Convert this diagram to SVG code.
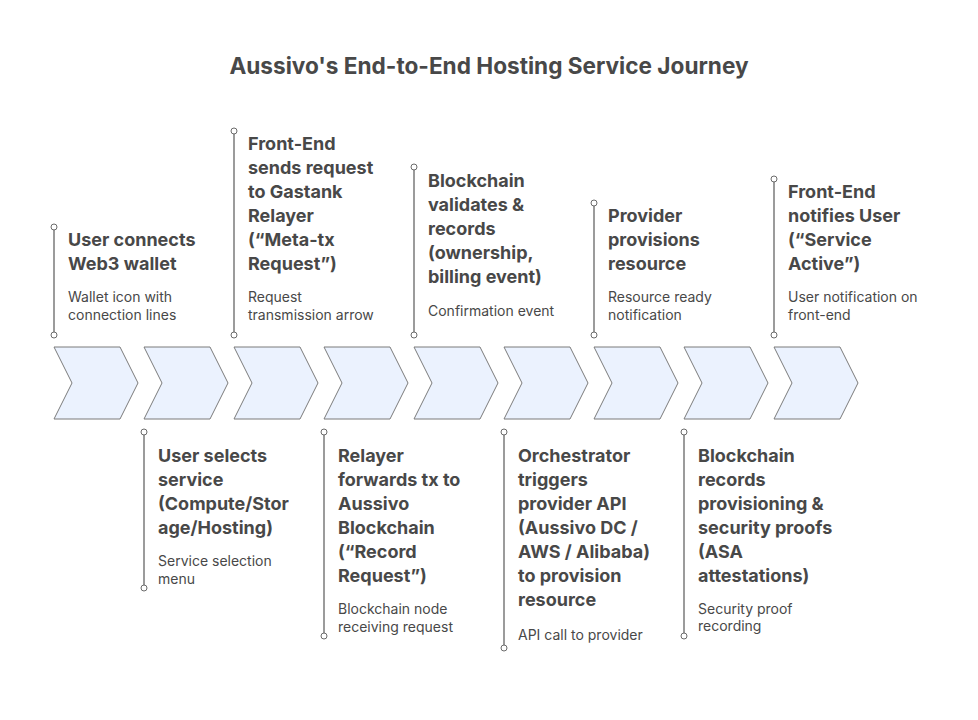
<svg xmlns="http://www.w3.org/2000/svg" width="978" height="720" viewBox="0 0 978 720">
<style>
.bg{fill:#ffffff}
.title{font-family:Inter,Roboto,"Liberation Sans",sans-serif;font-weight:700;font-size:22.6px;fill:#484848}
.h{font-family:Inter,Roboto,"Liberation Sans",sans-serif;font-weight:700;font-size:18px;fill:#484848}
.d{font-family:Inter,Roboto,"Liberation Sans",sans-serif;font-size:14px;fill:#484848}
.chev{fill:#ebf2fe;stroke:#7b7b7b;stroke-width:1}
.lead{stroke:#9b9b9b;stroke-width:2;fill:none}
.dot{fill:#ffffff;stroke:#6b6b6b;stroke-width:1}
</style>
<defs>
<polygon id="chevron" points="0,347 66,347 84,383 66,419 0,419 18,383"/>
</defs>
<rect class="bg" x="0" y="0" width="978" height="720"/>
<text class="title" x="489" y="74" text-anchor="middle">Aussivo's End-to-End Hosting Service Journey</text>

<g id="connectors">
<line class="lead" x1="54" y1="227" x2="54" y2="335"/>
<circle class="dot" cx="54" cy="227" r="3"/><circle class="dot" cx="54" cy="335" r="3"/>
<line class="lead" x1="234" y1="131" x2="234" y2="335"/>
<circle class="dot" cx="234" cy="131" r="3"/><circle class="dot" cx="234" cy="335" r="3"/>
<line class="lead" x1="414" y1="167" x2="414" y2="335"/>
<circle class="dot" cx="414" cy="167" r="3"/><circle class="dot" cx="414" cy="335" r="3"/>
<line class="lead" x1="594" y1="203" x2="594" y2="335"/>
<circle class="dot" cx="594" cy="203" r="3"/><circle class="dot" cx="594" cy="335" r="3"/>
<line class="lead" x1="774" y1="179" x2="774" y2="335"/>
<circle class="dot" cx="774" cy="179" r="3"/><circle class="dot" cx="774" cy="335" r="3"/>
<line class="lead" x1="144" y1="432" x2="144" y2="588"/>
<circle class="dot" cx="144" cy="432" r="3"/><circle class="dot" cx="144" cy="588" r="3"/>
<line class="lead" x1="324" y1="432" x2="324" y2="636"/>
<circle class="dot" cx="324" cy="432" r="3"/><circle class="dot" cx="324" cy="636" r="3"/>
<line class="lead" x1="504" y1="432" x2="504" y2="648"/>
<circle class="dot" cx="504" cy="432" r="3"/><circle class="dot" cx="504" cy="648" r="3"/>
<line class="lead" x1="684" y1="432" x2="684" y2="636"/>
<circle class="dot" cx="684" cy="432" r="3"/><circle class="dot" cx="684" cy="636" r="3"/>
</g>

<g id="step1">
<use href="#chevron" class="chev" x="54"/>
<text class="h" x="68"><tspan x="68" y="246">User connects</tspan><tspan x="68" y="270">Web3 wallet</tspan></text>
<text class="d"><tspan x="68" y="302">Wallet icon with</tspan><tspan x="68" y="320">connection lines</tspan></text>
</g>

<g id="step2">
<use href="#chevron" class="chev" x="144"/>
<text class="h"><tspan x="158" y="462">User selects</tspan><tspan x="158" y="486">service</tspan><tspan x="158" y="510">(Compute/Stor</tspan><tspan x="158" y="534">age/Hosting)</tspan></text>
<text class="d"><tspan x="158" y="566">Service selection</tspan><tspan x="158" y="584">menu</tspan></text>
</g>

<g id="step3">
<use href="#chevron" class="chev" x="234"/>
<text class="h"><tspan x="248" y="150">Front-End</tspan><tspan x="248" y="174">sends request</tspan><tspan x="248" y="198">to Gastank</tspan><tspan x="248" y="222">Relayer</tspan><tspan x="248" y="246">(“Meta-tx</tspan><tspan x="248" y="270">Request”)</tspan></text>
<text class="d"><tspan x="248" y="302">Request</tspan><tspan x="248" y="320">transmission arrow</tspan></text>
</g>

<g id="step4">
<use href="#chevron" class="chev" x="324"/>
<text class="h"><tspan x="338" y="462">Relayer</tspan><tspan x="338" y="486">forwards tx to</tspan><tspan x="338" y="510">Aussivo</tspan><tspan x="338" y="534">Blockchain</tspan><tspan x="338" y="558">(“Record</tspan><tspan x="338" y="582">Request”)</tspan></text>
<text class="d"><tspan x="338" y="614">Blockchain node</tspan><tspan x="338" y="632">receiving request</tspan></text>
</g>

<g id="step5">
<use href="#chevron" class="chev" x="414"/>
<text class="h"><tspan x="428" y="187">Blockchain</tspan><tspan x="428" y="211">validates &amp;</tspan><tspan x="428" y="235">records</tspan><tspan x="428" y="259">(ownership,</tspan><tspan x="428" y="283">billing event)</tspan></text>
<text class="d"><tspan x="428" y="316">Confirmation event</tspan></text>
</g>

<g id="step6">
<use href="#chevron" class="chev" x="504"/>
<text class="h"><tspan x="518" y="462">Orchestrator</tspan><tspan x="518" y="486">triggers</tspan><tspan x="518" y="510">provider API</tspan><tspan x="518" y="534">(Aussivo DC /</tspan><tspan x="518" y="558">AWS / Alibaba)</tspan><tspan x="518" y="582">to provision</tspan><tspan x="518" y="606">resource</tspan></text>
<text class="d"><tspan x="518" y="640">API call to provider</tspan></text>
</g>

<g id="step7">
<use href="#chevron" class="chev" x="594"/>
<text class="h"><tspan x="608" y="222">Provider</tspan><tspan x="608" y="246">provisions</tspan><tspan x="608" y="270">resource</tspan></text>
<text class="d"><tspan x="608" y="302">Resource ready</tspan><tspan x="608" y="320">notification</tspan></text>
</g>

<g id="step8">
<use href="#chevron" class="chev" x="684"/>
<text class="h"><tspan x="698" y="462">Blockchain</tspan><tspan x="698" y="486">records</tspan><tspan x="698" y="510">provisioning &amp;</tspan><tspan x="698" y="534">security proofs</tspan><tspan x="698" y="558">(ASA</tspan><tspan x="698" y="582">attestations)</tspan></text>
<text class="d"><tspan x="698" y="614">Security proof</tspan><tspan x="698" y="631">recording</tspan></text>
</g>

<g id="step9">
<use href="#chevron" class="chev" x="774"/>
<text class="h"><tspan x="788" y="198">Front-End</tspan><tspan x="788" y="222">notifies User</tspan><tspan x="788" y="246">(“Service</tspan><tspan x="788" y="270">Active”)</tspan></text>
<text class="d"><tspan x="788" y="302">User notification on</tspan><tspan x="788" y="320">front-end</tspan></text>
</g>
</svg>
